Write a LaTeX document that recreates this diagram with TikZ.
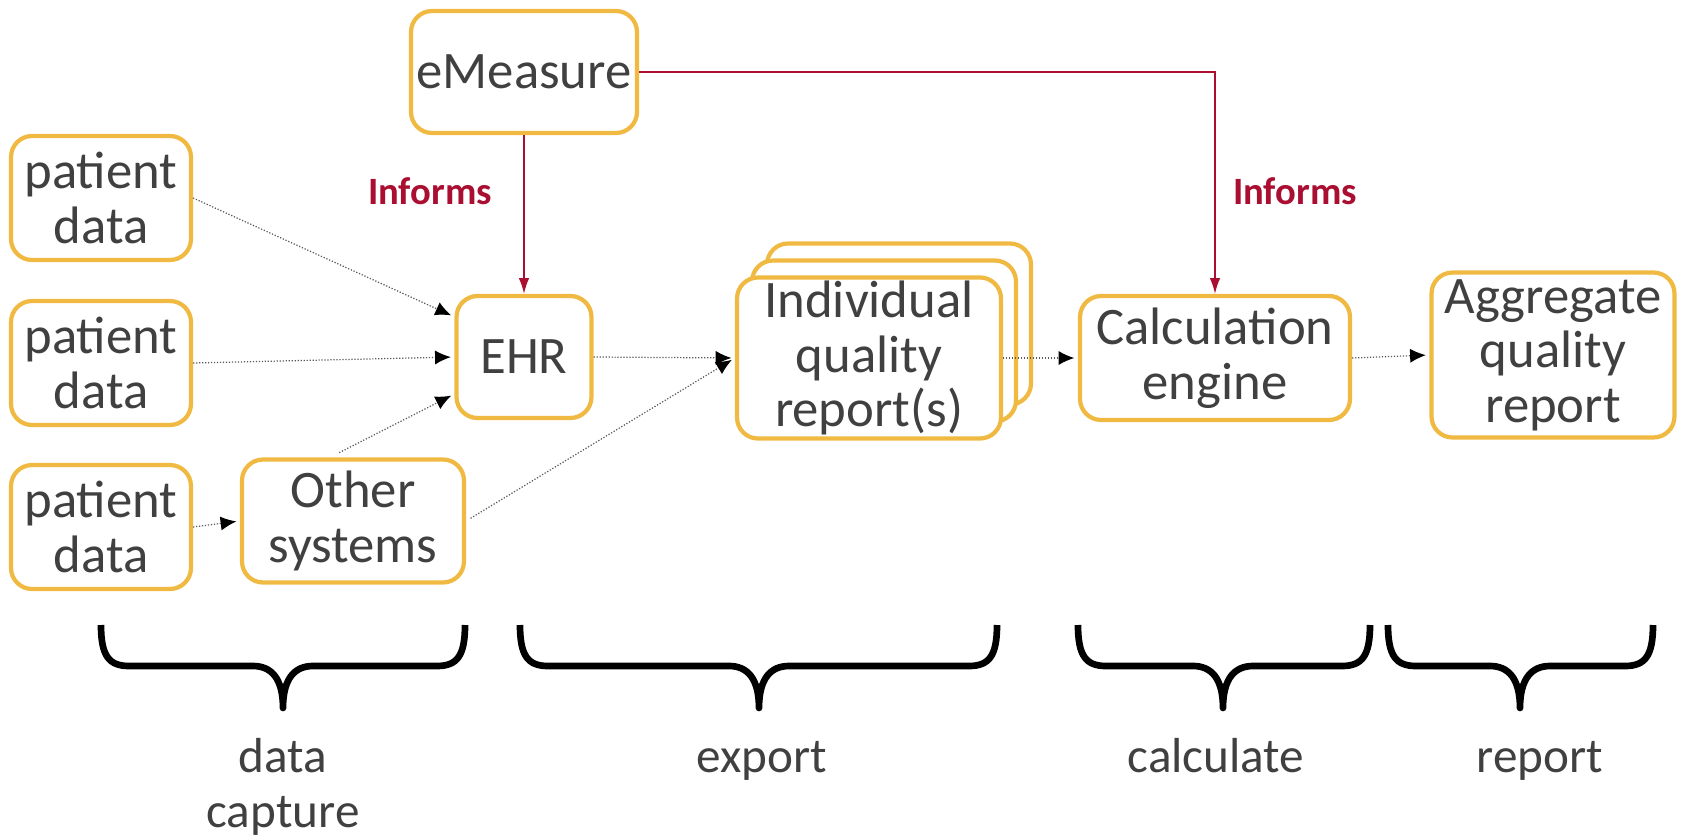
\documentclass[tikz,border=0pt]{standalone}
\usepackage{fontspec}
\setmainfont{Carlito}
\usetikzlibrary{arrows.meta}
\definecolor{boxgold}{RGB}{240,186,66}
\definecolor{informred}{RGB}{170,15,50}
\definecolor{txtgray}{RGB}{64,64,64}

\begin{document}
\begin{tikzpicture}[x=0.02cm,y=-0.02cm,
  box/.style={draw=boxgold,line width=2.4pt,rounded corners=0.42cm,fill=white,text=txtgray,align=center,font=\fontsize{30}{31}\selectfont,inner sep=2pt},
  flow/.style={black!65,line width=0.7pt,densely dotted,-{Latex[length=9pt,width=8pt,color=black]},shorten >=2pt},
  informs/.style={informred,line width=0.9pt,-{Latex[length=9pt,width=6pt]}},
  informlbl/.style={text=informred,font=\fontsize{22}{24}\selectfont\bfseries},
  stage/.style={line width=3.8pt,line join=round},
  phase/.style={text=txtgray,align=center,font=\fontsize{28}{31}\selectfont}]
  \useasboundingbox (0,0) rectangle (1684,838);

  \node[box,minimum width=4.52cm,minimum height=2.44cm] (em) at (524,72) {eMeasure};
  \node[box,minimum width=3.6cm,minimum height=2.48cm] (pda) at (101,198) {patient\\data};
  \node[box,minimum width=3.6cm,minimum height=2.48cm] (pdb) at (101,363) {patient\\data};
  \node[box,minimum width=3.6cm,minimum height=2.48cm] (pdc) at (101,527) {patient\\data};
  \node[box,minimum width=2.7cm,minimum height=2.44cm] (ehr) at (524,357) {EHR};
  \node[box,minimum width=4.44cm,minimum height=2.46cm] (oth) at (353,521) {Other\\systems};
  % stacked reports
  \node[box,minimum width=5.28cm,minimum height=3.22cm] (iqrb) at (899,324) {};
  \node[box,minimum width=5.28cm,minimum height=3.22cm] (iqrm) at (884,341) {};
  \node[box,minimum width=5.28cm,minimum height=3.22cm] (iqr) at (869,358) {Individual\\quality\\report(s)};
  \node[box,minimum width=5.4cm,minimum height=2.48cm] (calc) at (1215,358) {Calculation\\engine};
  \node[box,minimum width=4.86cm,minimum height=3.3cm] (agg) at (1553,355) {Aggregate\\quality\\report};

  \draw[informs] (em.south) -- (ehr.north);
  \draw[informs] (em.east) -| (calc.north);
  \node[informlbl] (inf1) at (430,191) {Informs};
  \node[informlbl] (inf2) at (1295,191) {Informs};

  \draw[flow] (pda.east) -- (ehr.150);
  \draw[flow] (pdb.east) -- (ehr.west);
  \draw[flow] (pdc.east) -- (oth.west);
  \draw[flow,shorten <=6pt] (oth.110) -- (ehr.208);
  \draw[flow,shorten <=3pt] (oth.east) -- (iqr.west);
  \draw[flow] (ehr.east) -- (iqr.west);
  \draw[flow] (iqr.east) -- (calc.west);
  \draw[flow] (calc.east) -- (agg.west);

  % phases
  \foreach \l/\t/\r in {101/283/465, 520/759/997, 1078/1223/1370, 1388/1520/1653}
    \draw[stage] (\l,625) .. controls (\l,656) and (\l+8,666) .. (\l+28,666) -- (\t-30,666)
      .. controls (\t-12,666) and (\t,678) .. (\t,708)
      .. controls (\t,678) and (\t+12,666) .. (\t+30,666) -- (\r-28,666)
      .. controls (\r-8,666) and (\r,656) .. (\r,625);
  \node[phase] (capture) at (283,787) {data\\capture};
  \node[phase,anchor=base] (export) at (762,772) {export};
  \node[phase,anchor=base] (calculate) at (1216,772) {calculate};
  \node[phase,anchor=base] (report) at (1540,772) {report};
\end{tikzpicture}
\end{document}
